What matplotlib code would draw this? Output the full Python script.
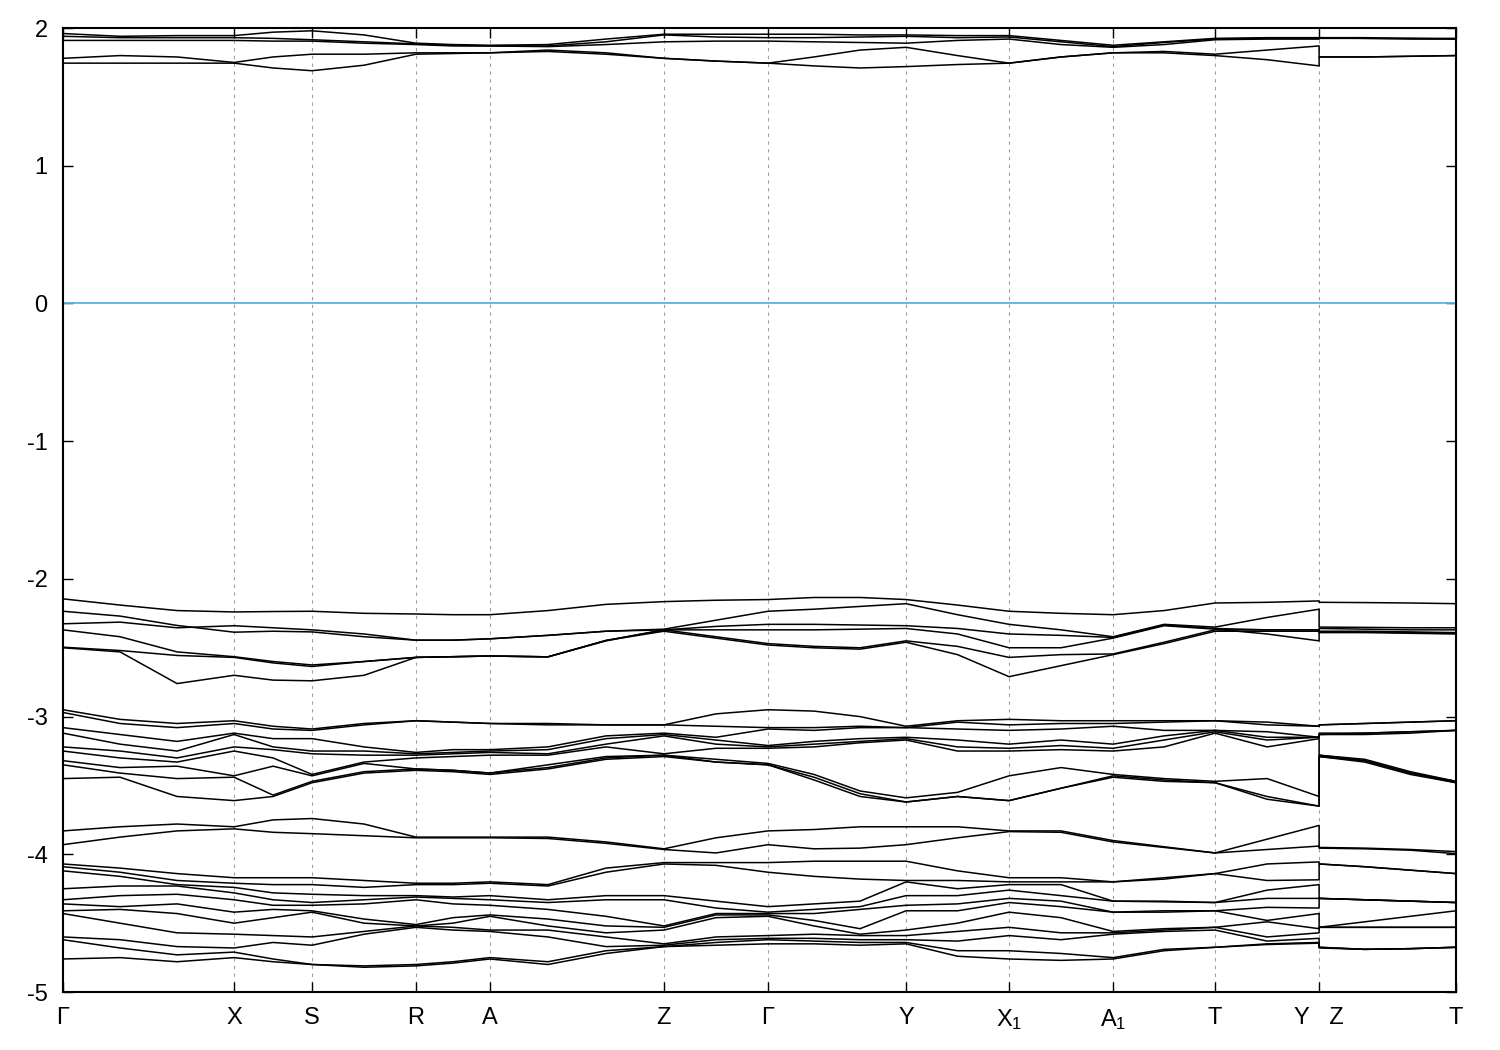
import numpy as np
import matplotlib
matplotlib.use('Agg')
import matplotlib.pyplot as plt

plt.rcParams['font.family'] = ['Liberation Sans', 'DejaVu Sans']
plt.rcParams['mathtext.default'] = 'regular'
plt.rcParams['axes.unicode_minus'] = False

# high symmetry points along the path (normalised path length)
k_labels = ['Γ', 'X', 'S', 'R', 'A', 'Z', 'Γ', 'Y', 'X$_1$', 'A$_1$', 'T', 'Y   Z', 'T']
k_sym = [0.0, 0.1228, 0.1788, 0.2534, 0.3065, 0.4314, 0.5061,
         0.6052, 0.6791, 0.7538, 0.8270, 0.9017, 1.0]
# sample points per segment (Y and Z share the same position)
n_steps = [3, 2, 2, 2, 3, 2, 3, 2, 2, 2, 2, 3]

# bands near 2 eV, one row per k sample (5 bands)
top_slices = [
    [1.96, 1.94, 1.91, 1.78, 1.745],
    [1.94, 1.93, 1.91, 1.80, 1.745],
    [1.945, 1.93, 1.91, 1.79, 1.745],
    [1.945, 1.93, 1.91, 1.75, 1.745],
    [1.97, 1.925, 1.905, 1.79, 1.71],
    [1.98, 1.915, 1.905, 1.81, 1.69],
    [1.95, 1.90, 1.89, 1.81, 1.73],
    [1.89, 1.885, 1.88, 1.82, 1.81],
    [1.88, 1.875, 1.87, 1.82, 1.815],
    [1.875, 1.87, 1.87, 1.82, 1.82],
    [1.88, 1.87, 1.865, 1.84, 1.83],
    [1.92, 1.90, 1.88, 1.82, 1.81],
    [1.955, 1.95, 1.90, 1.78, 1.78],
    [1.955, 1.935, 1.905, 1.76, 1.76],
    [1.955, 1.93, 1.905, 1.745, 1.745],
    [1.955, 1.93, 1.90, 1.79, 1.725],
    [1.95, 1.935, 1.895, 1.84, 1.71],
    [1.95, 1.94, 1.89, 1.86, 1.72],
    [1.945, 1.93, 1.91, 1.80, 1.735],
    [1.945, 1.935, 1.92, 1.745, 1.745],
    [1.91, 1.90, 1.88, 1.79, 1.79],
    [1.875, 1.865, 1.86, 1.82, 1.82],
    [1.90, 1.895, 1.88, 1.83, 1.82],
    [1.925, 1.92, 1.915, 1.81, 1.80],
    [1.93, 1.925, 1.92, 1.84, 1.77],
    [1.93, 1.925, 1.92, 1.87, 1.725],
    [1.93, 1.93, 1.925, 1.79, 1.79],
    [1.93, 1.925, 1.925, 1.79, 1.79],
    [1.925, 1.925, 1.92, 1.795, 1.795],
    [1.925, 1.92, 1.92, 1.80, 1.80],
]

# bands around -2.4 eV, one list per band
band_a = [-2.145, -2.19, -2.23, -2.24, -2.237, -2.235, -2.25, -2.255, -2.26, -2.26,
          -2.23, -2.185, -2.165, -2.155, -2.15, -2.135, -2.135, -2.15, -2.19, -2.235,
          -2.25, -2.26, -2.23, -2.175, -2.17, -2.16, -2.17, -2.172, -2.175, -2.18]
band_b = [-2.235, -2.27, -2.338, -2.387, -2.38, -2.385, -2.42, -2.445, -2.445, -2.435,
          -2.41, -2.38, -2.365, -2.30, -2.235, -2.22, -2.20, -2.18, -2.26, -2.33,
          -2.37, -2.42, -2.33, -2.35, -2.28, -2.22, -2.35, -2.352, -2.355, -2.355]
band_c = [-2.326, -2.314, -2.355, -2.34, -2.355, -2.37, -2.40, -2.445, -2.445, -2.435,
          -2.41, -2.38, -2.37, -2.345, -2.33, -2.33, -2.335, -2.34, -2.36, -2.40,
          -2.41, -2.425, -2.335, -2.36, -2.37, -2.37, -2.36, -2.365, -2.37, -2.37]
band_d = [-2.37, -2.42, -2.53, -2.565, -2.60, -2.625, -2.60, -2.57, -2.565, -2.56,
          -2.566, -2.45, -2.37, -2.37, -2.37, -2.37, -2.365, -2.36, -2.40, -2.50,
          -2.50, -2.43, -2.34, -2.365, -2.40, -2.45, -2.38, -2.38, -2.385, -2.39]
band_e = [-2.496, -2.52, -2.556, -2.57, -2.61, -2.636, -2.60, -2.57, -2.565, -2.56,
          -2.566, -2.447, -2.37, -2.42, -2.47, -2.49, -2.50, -2.45, -2.49, -2.57,
          -2.55, -2.545, -2.46, -2.37, -2.37, -2.37, -2.385, -2.385, -2.39, -2.395]
band_f = [-2.50, -2.53, -2.76, -2.70, -2.735, -2.74, -2.70, -2.57, -2.565, -2.56,
          -2.566, -2.447, -2.38, -2.43, -2.48, -2.50, -2.51, -2.46, -2.55, -2.71,
          -2.63, -2.55, -2.47, -2.38, -2.38, -2.38, -2.39, -2.39, -2.395, -2.40]

# bands around -3.2 eV, one row per k sample (9 bands)
mid_slices = [
    [-2.95, -2.97, -3.08, -3.12, -3.22, -3.25, -3.32, -3.35, -3.45],
    [-3.02, -3.05, -3.13, -3.20, -3.25, -3.30, -3.37, -3.41, -3.44],
    [-3.05, -3.08, -3.18, -3.25, -3.30, -3.33, -3.36, -3.45, -3.58],
    [-3.03, -3.05, -3.12, -3.13, -3.22, -3.25, -3.43, -3.44, -3.61],
    [-3.07, -3.09, -3.16, -3.22, -3.24, -3.30, -3.36, -3.57, -3.58],
    [-3.09, -3.10, -3.16, -3.25, -3.27, -3.42, -3.43, -3.47, -3.48],
    [-3.05, -3.06, -3.22, -3.25, -3.28, -3.33, -3.34, -3.40, -3.41],
    [-3.03, -3.03, -3.26, -3.27, -3.28, -3.30, -3.38, -3.38, -3.39],
    [-3.04, -3.04, -3.24, -3.26, -3.27, -3.29, -3.39, -3.39, -3.40],
    [-3.05, -3.05, -3.24, -3.25, -3.26, -3.28, -3.41, -3.41, -3.42],
    [-3.05, -3.06, -3.22, -3.24, -3.27, -3.28, -3.35, -3.37, -3.38],
    [-3.06, -3.06, -3.14, -3.16, -3.20, -3.22, -3.29, -3.30, -3.31],
    [-3.06, -3.06, -3.12, -3.13, -3.14, -3.27, -3.28, -3.28, -3.29],
    [-2.98, -3.07, -3.15, -3.17, -3.20, -3.23, -3.31, -3.33, -3.33],
    [-2.95, -3.08, -3.09, -3.21, -3.22, -3.23, -3.34, -3.35, -3.35],
    [-2.96, -3.08, -3.10, -3.18, -3.20, -3.22, -3.42, -3.44, -3.46],
    [-3.00, -3.07, -3.08, -3.16, -3.18, -3.19, -3.54, -3.56, -3.58],
    [-3.07, -3.08, -3.08, -3.15, -3.16, -3.17, -3.59, -3.62, -3.62],
    [-3.03, -3.04, -3.09, -3.17, -3.22, -3.25, -3.55, -3.58, -3.58],
    [-3.02, -3.06, -3.10, -3.20, -3.23, -3.25, -3.43, -3.61, -3.61],
    [-3.03, -3.05, -3.09, -3.17, -3.21, -3.24, -3.37, -3.52, -3.52],
    [-3.03, -3.05, -3.07, -3.20, -3.23, -3.25, -3.42, -3.43, -3.44],
    [-3.03, -3.04, -3.10, -3.14, -3.17, -3.22, -3.45, -3.46, -3.47],
    [-3.03, -3.03, -3.10, -3.10, -3.11, -3.12, -3.47, -3.48, -3.48],
    [-3.04, -3.06, -3.11, -3.15, -3.17, -3.22, -3.45, -3.58, -3.60],
    [-3.07, -3.07, -3.15, -3.15, -3.15, -3.16, -3.58, -3.65, -3.65],
    [-3.06, -3.06, -3.12, -3.13, -3.13, -3.28, -3.28, -3.29, -3.29],
    [-3.05, -3.05, -3.12, -3.12, -3.13, -3.31, -3.32, -3.32, -3.33],
    [-3.04, -3.04, -3.11, -3.11, -3.12, -3.40, -3.41, -3.41, -3.42],
    [-3.03, -3.03, -3.10, -3.10, -3.10, -3.47, -3.47, -3.48, -3.48],
]

# the pair of bands near -3.9 eV
band_h1 = [-3.83, -3.80, -3.78, -3.80, -3.75, -3.74, -3.78, -3.875, -3.875, -3.875,
           -3.875, -3.91, -3.96, -3.88, -3.83, -3.82, -3.80, -3.80, -3.80, -3.83,
           -3.83, -3.90, -3.945, -3.99, -3.89, -3.79, -3.95, -3.955, -3.965, -3.98]
band_h2 = [-3.93, -3.875, -3.83, -3.815, -3.84, -3.85, -3.865, -3.88, -3.88, -3.88,
           -3.885, -3.92, -3.965, -3.99, -3.93, -3.96, -3.955, -3.93, -3.88, -3.835,
           -3.84, -3.91, -3.95, -3.99, -3.965, -3.94, -3.955, -3.96, -3.97, -3.995]

# bands between -4.05 and -4.85 eV, one row per k sample (11 bands)
low_slices = [
    [-4.07, -4.09, -4.12, -4.25, -4.33, -4.36, -4.41, -4.43, -4.60, -4.62, -4.76],
    [-4.10, -4.13, -4.16, -4.23, -4.30, -4.38, -4.40, -4.50, -4.62, -4.68, -4.75],
    [-4.14, -4.19, -4.22, -4.23, -4.29, -4.36, -4.43, -4.57, -4.67, -4.73, -4.78],
    [-4.17, -4.21, -4.24, -4.28, -4.33, -4.42, -4.50, -4.58, -4.68, -4.71, -4.75],
    [-4.17, -4.22, -4.28, -4.33, -4.37, -4.40, -4.46, -4.59, -4.64, -4.76, -4.78],
    [-4.17, -4.22, -4.29, -4.35, -4.37, -4.41, -4.42, -4.60, -4.66, -4.80, -4.80],
    [-4.19, -4.24, -4.30, -4.33, -4.36, -4.47, -4.50, -4.56, -4.58, -4.81, -4.82],
    [-4.21, -4.22, -4.30, -4.31, -4.33, -4.51, -4.52, -4.52, -4.53, -4.80, -4.81],
    [-4.21, -4.22, -4.31, -4.32, -4.36, -4.46, -4.50, -4.53, -4.55, -4.78, -4.79],
    [-4.20, -4.21, -4.30, -4.33, -4.37, -4.44, -4.45, -4.55, -4.56, -4.75, -4.76],
    [-4.22, -4.23, -4.33, -4.35, -4.40, -4.47, -4.52, -4.55, -4.60, -4.78, -4.80],
    [-4.10, -4.13, -4.30, -4.33, -4.45, -4.52, -4.57, -4.60, -4.67, -4.70, -4.72],
    [-4.06, -4.07, -4.30, -4.33, -4.52, -4.53, -4.55, -4.65, -4.66, -4.67, -4.67],
    [-4.06, -4.08, -4.34, -4.39, -4.43, -4.44, -4.46, -4.60, -4.62, -4.64, -4.66],
    [-4.06, -4.13, -4.38, -4.42, -4.43, -4.44, -4.45, -4.59, -4.61, -4.62, -4.65],
    [-4.05, -4.16, -4.36, -4.40, -4.43, -4.48, -4.52, -4.58, -4.61, -4.63, -4.65],
    [-4.05, -4.18, -4.34, -4.38, -4.40, -4.54, -4.58, -4.59, -4.62, -4.64, -4.66],
    [-4.05, -4.19, -4.20, -4.30, -4.37, -4.41, -4.55, -4.59, -4.62, -4.64, -4.65],
    [-4.12, -4.19, -4.25, -4.30, -4.36, -4.41, -4.50, -4.56, -4.63, -4.70, -4.74],
    [-4.17, -4.20, -4.22, -4.26, -4.32, -4.35, -4.42, -4.53, -4.59, -4.70, -4.76],
    [-4.17, -4.20, -4.22, -4.30, -4.34, -4.38, -4.46, -4.57, -4.62, -4.72, -4.77],
    [-4.20, -4.20, -4.34, -4.34, -4.42, -4.42, -4.56, -4.57, -4.58, -4.75, -4.76],
    [-4.17, -4.18, -4.34, -4.345, -4.41, -4.42, -4.54, -4.55, -4.56, -4.69, -4.70],
    [-4.14, -4.14, -4.35, -4.35, -4.41, -4.41, -4.53, -4.53, -4.55, -4.675, -4.675],
    [-4.07, -4.19, -4.26, -4.32, -4.385, -4.48, -4.49, -4.60, -4.63, -4.65, -4.655],
    [-4.055, -4.185, -4.22, -4.32, -4.39, -4.43, -4.54, -4.57, -4.61, -4.64, -4.645],
    [-4.07, -4.07, -4.32, -4.32, -4.32, -4.53, -4.53, -4.53, -4.675, -4.675, -4.68],
    [-4.09, -4.09, -4.33, -4.33, -4.33, -4.49, -4.53, -4.53, -4.69, -4.69, -4.69],
    [-4.115, -4.115, -4.34, -4.34, -4.34, -4.45, -4.53, -4.53, -4.685, -4.685, -4.685],
    [-4.14, -4.14, -4.35, -4.35, -4.35, -4.41, -4.53, -4.53, -4.675, -4.675, -4.675],
]

# k coordinates of the samples
k = []
for i, n in enumerate(n_steps):
    k.extend(np.linspace(k_sym[i], k_sym[i + 1], n + 1)[:-1])
    if i == 10:
        k.append(k_sym[11])   # Y, then the path jumps to Z at the same spot
k.append(k_sym[-1])
k = np.array(k)

bands = list(np.array(top_slices).T)
bands += [band_a, band_b, band_c, band_d, band_e, band_f]
bands += list(np.array(mid_slices).T)
bands += [band_h1, band_h2]
bands += list(np.array(low_slices).T)

fig = plt.figure(figsize=(15, 10.5), dpi=100)
ax = fig.add_axes([0.042, 0.0552, 0.9287, 0.9181])

for kx in k_sym[1:-1]:
    ax.axvline(kx, color='#a0a0a0', lw=0.8, ls=(0, (3, 4)), zorder=1)
ax.axhline(0, color='#56b4e9', lw=1.3, zorder=2)

for b in bands:
    ax.plot(k, b, color='black', lw=1.1, zorder=3)

ax.set_xlim(0, 1)
ax.set_ylim(-5, 2)
ax.set_yticks(range(-5, 3))
ax.set_xticks(k_sym)
ax.set_xticklabels(k_labels)
ax.tick_params(direction='in', top=True, right=True, length=7, width=1,
               labelsize=17, pad=11)
for s in ax.spines.values():
    s.set_linewidth(1.5)

fig.savefig('out.png', dpi=100)
